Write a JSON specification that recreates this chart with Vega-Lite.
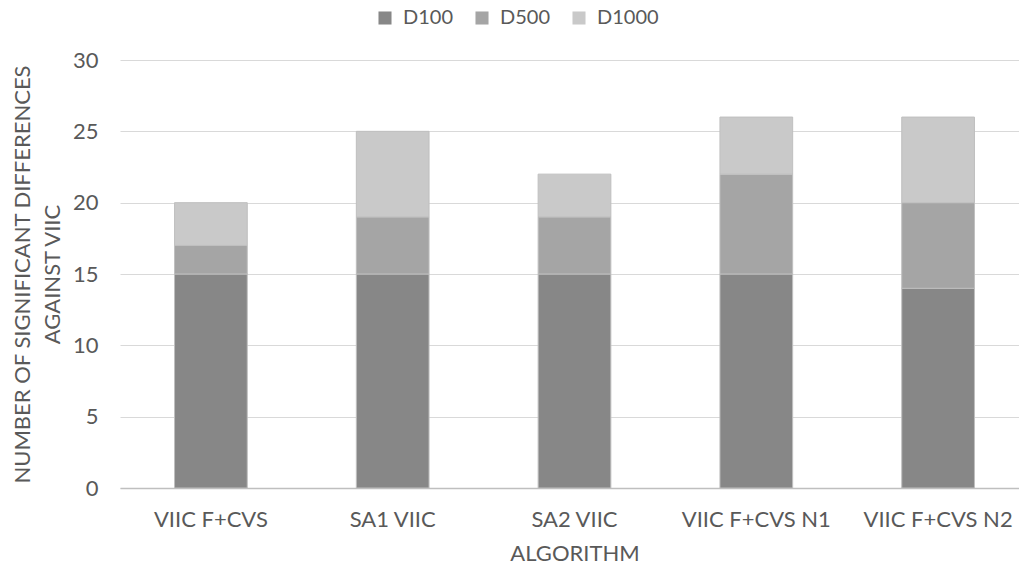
{
  "$schema": "https://vega.github.io/schema/vega-lite/v6.json",
  "autosize": {"type": "none"},
  "width": 909,
  "height": 428,
  "padding": {"left": 120, "top": 60, "right": 0, "bottom": 82},
  "background": "white",
  "config": {
    "font": "Lato",
    "view": {"stroke": null},
    "axis": {"labelColor": "#595959", "titleColor": "#595959", "labelFont": "Lato", "titleFont": "Lato", "titleFontWeight": "normal"}
  },
  "data": {
    "values": [
      {"algorithm": "VIIC F+CVS", "series": "D100", "o": 1, "value": 15},
      {"algorithm": "VIIC F+CVS", "series": "D500", "o": 2, "value": 2},
      {"algorithm": "VIIC F+CVS", "series": "D1000", "o": 3, "value": 3},
      {"algorithm": "SA1 VIIC", "series": "D100", "o": 1, "value": 15},
      {"algorithm": "SA1 VIIC", "series": "D500", "o": 2, "value": 4},
      {"algorithm": "SA1 VIIC", "series": "D1000", "o": 3, "value": 6},
      {"algorithm": "SA2 VIIC", "series": "D100", "o": 1, "value": 15},
      {"algorithm": "SA2 VIIC", "series": "D500", "o": 2, "value": 4},
      {"algorithm": "SA2 VIIC", "series": "D1000", "o": 3, "value": 3},
      {"algorithm": "VIIC F+CVS N1", "series": "D100", "o": 1, "value": 15},
      {"algorithm": "VIIC F+CVS N1", "series": "D500", "o": 2, "value": 7},
      {"algorithm": "VIIC F+CVS N1", "series": "D1000", "o": 3, "value": 4},
      {"algorithm": "VIIC F+CVS N2", "series": "D100", "o": 1, "value": 14},
      {"algorithm": "VIIC F+CVS N2", "series": "D500", "o": 2, "value": 6},
      {"algorithm": "VIIC F+CVS N2", "series": "D1000", "o": 3, "value": 6}
    ]
  },
  "mark": {"type": "bar", "stroke": "#bfbfbf", "strokeWidth": 1},
  "encoding": {
    "x": {
      "field": "algorithm",
      "type": "nominal",
      "sort": ["VIIC F+CVS", "SA1 VIIC", "SA2 VIIC", "VIIC F+CVS N1", "VIIC F+CVS N2"],
      "scale": {"paddingInner": 0.6, "paddingOuter": 0.3},
      "axis": {
        "title": "ALGORITHM",
        "labelAngle": 0,
        "labelFontSize": 22,
        "titleFontSize": 22,
        "labelPadding": 21,
        "titlePadding": 13,
        "ticks": false,
        "domainColor": "#bfbfbf",
        "domainWidth": 1.5
      }
    },
    "y": {
      "field": "value",
      "type": "quantitative",
      "stack": "zero",
      "scale": {"domain": [0, 30]},
      "axis": {
        "title": ["NUMBER OF SIGNIFICANT DIFFERENCES", "AGAINST VIIC"],
        "values": [0, 5, 10, 15, 20, 25, 30],
        "labelFontSize": 22,
        "titleFontSize": 22,
        "titleLineHeight": 30,
        "labelPadding": 22,
        "titlePadding": 8,
        "ticks": false,
        "domain": false,
        "gridColor": "#d9d9d9",
        "gridWidth": 1
      }
    },
    "color": {
      "field": "series",
      "type": "nominal",
      "sort": ["D100", "D500", "D1000"],
      "scale": {"domain": ["D100", "D500", "D1000"], "range": ["#878787", "#a5a5a5", "#c9c9c9"]},
      "legend": {
        "title": null,
        "orient": "none",
        "legendX": 255,
        "legendY": -52,
        "direction": "horizontal",
        "symbolType": "square",
        "symbolSize": 170,
        "symbolStrokeWidth": 0,
        "labelFontSize": 20,
        "labelColor": "#595959",
        "columnPadding": 18,
        "labelOffset": 8
      }
    },
    "order": {"field": "o", "type": "quantitative"}
  }
}
